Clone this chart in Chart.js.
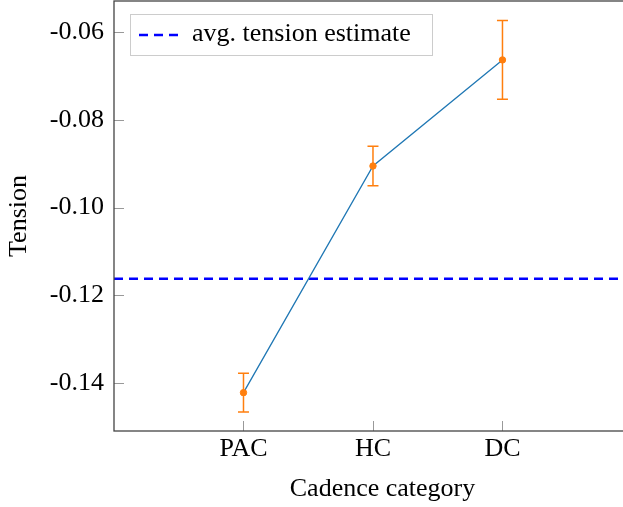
<!DOCTYPE html>
<html>
<head>
<meta charset="utf-8">
<script src="https://cdn.jsdelivr.net/npm/chart.js@4"></script>
<style>
  html, body { margin: 0; padding: 0; background: #fff; overflow: hidden; }
  #wrap { width: 651px; height: 507px; }
</style>
</head>
<body>
<div id="wrap"><canvas id="grafico" width="651" height="507"></canvas></div>
<script>
// data
var categories = ["PAC", "HC", "DC"];
var tensionMean = [-0.1422, -0.0905, -0.0663];
var tensionErr = [0.0044, 0.0045, 0.0090];
var avgTension = -0.1162;
var yTicks = [-0.14, -0.12, -0.10, -0.08, -0.06];
var legendLabel = "avg. tension estimate";

var serif = '"Liberation Serif", "Times New Roman", serif';
var fontSize = 26;
var orange = "#ff7f0e";
var blue = "#1f77b4";

var points = categories.map(function (c, i) { return { x: i, y: tensionMean[i] }; });

function noPad(s) { s.paddingTop = 0; s.paddingBottom = 0; s.paddingLeft = 0; s.paddingRight = 0; }

// error bars, inward ticks, frame and legend box
var extras = {
    id: "extras",
    afterDatasetsDraw: function (chart) {
        var ctx = chart.ctx, xs = chart.scales.x, ys = chart.scales.y;
        ctx.save();
        ctx.strokeStyle = orange;
        ctx.lineWidth = 1.5;
        for (var i = 0; i < tensionMean.length; i++) {
            var px = xs.getPixelForValue(i);
            var top = ys.getPixelForValue(tensionMean[i] + tensionErr[i]);
            var bot = ys.getPixelForValue(tensionMean[i] - tensionErr[i]);
            ctx.beginPath();
            ctx.moveTo(px, top); ctx.lineTo(px, bot);
            ctx.moveTo(px - 5.5, top); ctx.lineTo(px + 5.5, top);
            ctx.moveTo(px - 5.5, bot); ctx.lineTo(px + 5.5, bot);
            ctx.stroke();
        }
        ctx.restore();
    },
    afterDraw: function (chart) {
        var ctx = chart.ctx, a = chart.chartArea, xs = chart.scales.x, ys = chart.scales.y;
        ctx.save();
        // inward ticks
        ctx.strokeStyle = "#999";
        ctx.lineWidth = 1;
        ctx.beginPath();
        yTicks.forEach(function (v) {
            var py = Math.round(ys.getPixelForValue(v)) + 0.5;
            ctx.moveTo(a.left, py); ctx.lineTo(a.left + 10, py);
        });
        categories.forEach(function (c, i) {
            var px = Math.round(xs.getPixelForValue(i)) + 0.5;
            ctx.moveTo(px, a.bottom); ctx.lineTo(px, a.bottom - 10);
        });
        ctx.stroke();
        // frame
        ctx.strokeStyle = "#444";
        ctx.lineWidth = 1.3;
        ctx.strokeRect(a.left, a.top, a.right - a.left, a.bottom - a.top);
        // legend
        var lx = a.left + 16, ly = a.top + 13;
        ctx.fillStyle = "#fff";
        ctx.fillRect(lx, ly, 302, 41);
        ctx.strokeStyle = "#cccccc";
        ctx.lineWidth = 1;
        ctx.strokeRect(lx + 0.5, ly + 0.5, 302, 41);
        ctx.strokeStyle = "#0000ff";
        ctx.lineWidth = 2.5;
        ctx.setLineDash([9, 6]);
        ctx.beginPath();
        ctx.moveTo(lx + 9, ly + 21); ctx.lineTo(lx + 50, ly + 21);
        ctx.stroke();
        ctx.setLineDash([]);
        ctx.fillStyle = "#000";
        ctx.font = fontSize + "px " + serif;
        ctx.textBaseline = "alphabetic";
        ctx.fillText(legendLabel, lx + 62, ly + 27);
        ctx.restore();
    }
};

var config = {
    type: "line",
    data: {
        datasets: [
            {
                label: legendLabel,
                data: [{ x: -1, y: avgTension }, { x: 3.2, y: avgTension }],
                borderColor: "#0000ff",
                borderWidth: 2.5,
                borderDash: [9, 6],
                pointRadius: 0,
                order: 3
            },
            {
                label: "tension",
                data: points,
                borderColor: blue,
                borderWidth: 1.3,
                pointRadius: 0,
                tension: 0,
                order: 2
            },
            {
                label: "mean",
                data: points,
                showLine: false,
                pointRadius: 3.2,
                pointBackgroundColor: orange,
                pointBorderColor: orange,
                order: 1
            }
        ]
    },
    options: {
        responsive: false,
        animation: false,
        layout: { autoPadding: false, padding: { top: 1, right: 0, left: 0, bottom: 0 } },
        plugins: { legend: { display: false }, tooltip: { enabled: false } },
        scales: {
            x: {
                type: "linear",
                min: -1,
                max: 3.147,
                grid: { display: false, drawTicks: false },
                border: { display: false },
                afterBuildTicks: function (s) { s.ticks = categories.map(function (c, i) { return { value: i }; }); },
                afterFit: function (s) { s.height = 76; noPad(s); },
                ticks: {
                    padding: 3,
                    maxRotation: 0,
                    color: "#000",
                    font: { family: serif, size: fontSize },
                    callback: function (v) { return categories[v]; }
                },
                title: {
                    display: true,
                    text: "Cadence category",
                    color: "#000",
                    font: { family: serif, size: fontSize },
                    padding: { top: 0, bottom: 2 }
                }
            },
            y: {
                min: -0.15095,
                max: -0.05286,
                grid: { display: false, drawTicks: false },
                border: { display: false },
                afterBuildTicks: function (s) { s.ticks = yTicks.map(function (v) { return { value: v }; }); },
                afterFit: function (s) { s.width = 114; noPad(s); },
                ticks: {
                    padding: 10,
                    color: "#000",
                    font: { family: serif, size: fontSize },
                    callback: function (v) { return v.toFixed(2); }
                },
                title: {
                    display: true,
                    text: "Tension",
                    color: "#000",
                    font: { family: serif, size: fontSize },
                    padding: { top: 4, bottom: 0 }
                }
            }
        }
    },
    plugins: [extras]
};

var graficoTensao = new Chart(document.getElementById("grafico"), config);
</script>
</body>
</html>
